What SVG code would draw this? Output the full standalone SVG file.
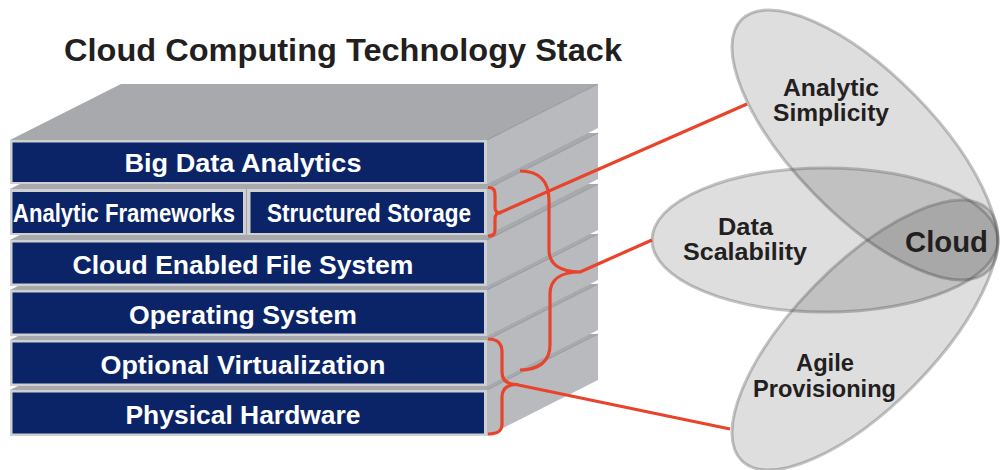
<svg xmlns="http://www.w3.org/2000/svg" width="1000" height="470" viewBox="0 0 1000 470">
<style>
.top{fill:#a8a9ac}
.side{fill:#b9babd}
.frame{fill:#cfd0d2}
.navy{fill:#0b2468}
.edge{stroke:#8e8f96;stroke-width:0.8;fill:none}
.lt{font-family:"Liberation Sans",Arial,sans-serif;font-weight:bold;font-size:25px;fill:#ffffff;text-anchor:middle}
.et{font-family:"Liberation Sans",Arial,sans-serif;font-weight:bold;font-size:23px;fill:#231f20;text-anchor:middle}
.ell{fill:#000000;fill-opacity:0.13;stroke:#555555;stroke-opacity:0.35;stroke-width:3}
.red{fill:none;stroke:#e8442c;stroke-width:3.2;stroke-linecap:butt;stroke-linejoin:round}
</style>
<rect width="1000" height="470" fill="#ffffff"/>
<text id="title" x="64" y="61" font-family="Liberation Sans, Arial, sans-serif" font-weight="bold" font-size="32" fill="#231f20" textLength="558" lengthAdjust="spacingAndGlyphs">Cloud Computing Technology Stack</text>

<g id="physical-hardware">
<polygon class="top" points="10,390 487,390 598,334 121,334"/>
<polygon class="side" points="487,390 598,334 598,380 487,436"/>
<path class="edge" d="M487,390 L598,334"/>
<rect class="frame" x="10" y="390" width="477" height="46"/>
<rect class="navy" x="12.5" y="392.5" width="471.5" height="41"/>
<text class="lt" x="243" y="424" textLength="235" lengthAdjust="spacingAndGlyphs">Physical Hardware</text>
</g>
<g id="optional-virtualization">
<polygon class="top" points="10,340 487,340 598,284 121,284"/>
<polygon class="side" points="487,340 598,284 598,330 487,386"/>
<path class="edge" d="M487,340 L598,284"/>
<rect class="frame" x="10" y="340" width="477" height="46"/>
<rect class="navy" x="12.5" y="342.5" width="471.5" height="41"/>
<text class="lt" x="243" y="374" textLength="285" lengthAdjust="spacingAndGlyphs">Optional Virtualization</text>
</g>
<g id="operating-system">
<polygon class="top" points="10,290 487,290 598,234 121,234"/>
<polygon class="side" points="487,290 598,234 598,280 487,336"/>
<path class="edge" d="M487,290 L598,234"/>
<rect class="frame" x="10" y="290" width="477" height="46"/>
<rect class="navy" x="12.5" y="292.5" width="471.5" height="41"/>
<text class="lt" x="243" y="323.5" textLength="228" lengthAdjust="spacingAndGlyphs">Operating System</text>
</g>
<g id="cloud-enabled-file-system">
<polygon class="top" points="10,240 487,240 598,184 121,184"/>
<polygon class="side" points="487,240 598,184 598,230 487,286"/>
<path class="edge" d="M487,240 L598,184"/>
<rect class="frame" x="10" y="240" width="477" height="46"/>
<rect class="navy" x="12.5" y="242.5" width="471.5" height="41"/>
<text class="lt" x="243" y="273.5" textLength="341" lengthAdjust="spacingAndGlyphs">Cloud Enabled File System</text>
</g>
<g id="analytics-layer">
<polygon class="top" points="10,189 487,189 598,133 121,133"/>
<polygon class="side" points="487,189 598,133 598,179 487,235"/>
<path class="edge" d="M487,189 L598,133"/>
<rect class="frame" x="10" y="189" width="477" height="46"/>
<line x1="246.5" y1="189" x2="246.5" y2="235" stroke="#a3a4a8" stroke-width="1"/>
<g id="analytic-frameworks">
<rect class="navy" x="12.5" y="192" width="230.5" height="41"/>
<text class="lt" x="124" y="222" textLength="222" lengthAdjust="spacingAndGlyphs">Analytic Frameworks</text>
</g>
<g id="structured-storage">
<rect class="navy" x="250.5" y="192" width="233.5" height="41"/>
<text class="lt" x="369" y="222" textLength="204" lengthAdjust="spacingAndGlyphs">Structured Storage</text>
</g>
</g>
<g id="big-data-analytics">
<polygon class="top" points="10,140 487,140 598,84 121,84"/>
<polygon class="side" points="487,140 598,84 598,128 487,184"/>
<path class="edge" d="M487,140 L598,84"/>
<rect class="frame" x="10" y="140" width="477" height="44"/>
<rect class="navy" x="12.5" y="142.5" width="471.5" height="39.5"/>
<text class="lt" x="243" y="172" textLength="237" lengthAdjust="spacingAndGlyphs">Big Data Analytics</text>
</g>

<g id="analytic-simplicity">
<ellipse class="ell" cx="865" cy="145" rx="176" ry="70.4" transform="rotate(45.6 865 145)"/>
</g>
<g id="data-scalability">
<ellipse class="ell" cx="825" cy="240" rx="173" ry="72"/>
</g>
<g id="agile-provisioning">
<ellipse class="ell" cx="865" cy="335" rx="176" ry="70.4" transform="rotate(-45.6 865 335)"/>
</g>
<g id="labels">
<text class="et" x="831" y="96" textLength="96" lengthAdjust="spacingAndGlyphs">Analytic</text>
<text class="et" x="831" y="121" textLength="116" lengthAdjust="spacingAndGlyphs">Simplicity</text>
<text class="et" x="745.5" y="235" textLength="55" lengthAdjust="spacingAndGlyphs">Data</text>
<text class="et" x="745" y="260" textLength="124" lengthAdjust="spacingAndGlyphs">Scalability</text>
<text class="et" x="825" y="370.5" textLength="58" lengthAdjust="spacingAndGlyphs">Agile</text>
<text class="et" x="824.5" y="397" textLength="143" lengthAdjust="spacingAndGlyphs">Provisioning</text>
<text id="cloud" x="946.5" y="252" font-family="Liberation Sans, Arial, sans-serif" font-weight="bold" font-size="30" fill="#231f20" text-anchor="middle" textLength="83" lengthAdjust="spacingAndGlyphs">Cloud</text>
</g>

<g id="connectors">
<path class="red" d="M488,187.5 C494,187.5 495,190 495,196 L495,207 C495,211 497,213 500,213 C497,213 495,215 495,219 L495,229 C495,234 494,236 488,236"/>
<path class="red" d="M499,213 L747,104"/>
<path class="red" d="M520,171 C540,171 549,182 549,200 L549,250 C549,264 560,272 580,272 C560,272 550,280 550,294 L550,345 C550,362 538,370 520,370"/>
<path class="red" d="M580,272 L652,240"/>
<path class="red" d="M488,339 C498,339 502,344 502,352 L502,372 C502,380 507,384.5 517,384.5 C507,384.5 502,389 502,397 L502,424 C502,431 498,434 488,434"/>
<path class="red" d="M516,384.5 L730,429"/>
</g>
</svg>
